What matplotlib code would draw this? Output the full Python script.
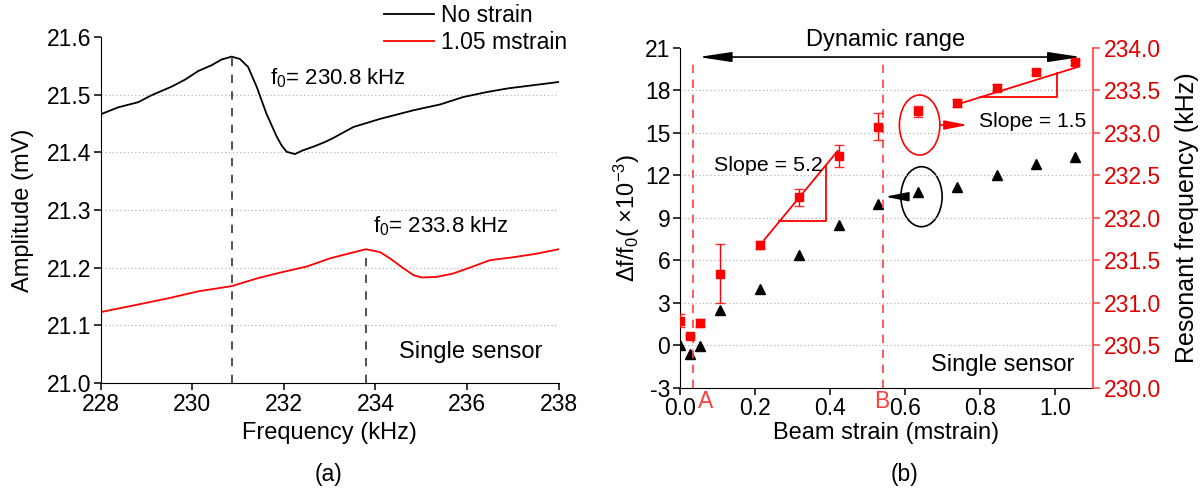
"""
Two-panel figure: resonance curves (a) and strain response of a single sensor (b).
"""

import matplotlib.pyplot as plt
import numpy as np
from matplotlib.patches import Ellipse
from matplotlib.transforms import blended_transform_factory

plt.switch_backend("Agg")

plt.rcParams["font.family"] = ["Liberation Sans", "DejaVu Sans"]
plt.rcParams["font.size"] = 16.5
plt.rcParams["axes.labelsize"] = 17
plt.rcParams["axes.unicode_minus"] = False
plt.rcParams["mathtext.fontset"] = "custom"
plt.rcParams["mathtext.rm"] = "Liberation Sans"
plt.rcParams["mathtext.it"] = "Liberation Sans:italic"
plt.rcParams["mathtext.bf"] = "Liberation Sans:bold"

# ---- panel (a): amplitude vs frequency ----
black_freq = [228.0, 228.38, 228.82, 229.11, 229.55, 229.84, 230.13, 230.42, 230.64,
              230.86, 231.04, 231.22, 231.41, 231.62, 231.84, 231.95, 232.06, 232.24,
              232.4, 232.65, 232.9, 233.08, 233.52, 234.1, 234.83, 235.41, 235.92,
              236.46, 236.9, 237.4, 238.0]
black_amp = [21.466, 21.478, 21.487, 21.499, 21.514, 21.526, 21.541, 21.551, 21.561,
             21.566, 21.562, 21.548, 21.513, 21.467, 21.428, 21.412, 21.401, 21.397,
             21.403, 21.41, 21.418, 21.425, 21.444, 21.458, 21.473, 21.483, 21.496,
             21.505, 21.511, 21.516, 21.522]

red_freq = [228.0, 228.75, 229.48, 230.13, 230.86, 231.44, 231.95, 232.5, 233.0,
            233.44, 233.79, 234.1, 234.32, 234.61, 234.83, 235.01, 235.34, 235.7,
            236.06, 236.5, 237.0, 237.5, 238.0]
red_amp = [21.123, 21.135, 21.147, 21.159, 21.168, 21.182, 21.192, 21.202, 21.216,
           21.225, 21.232, 21.227, 21.216, 21.199, 21.187, 21.183, 21.184, 21.19,
           21.2, 21.213, 21.218, 21.224, 21.232]

peak_freqs = [230.86, 233.80]
peak_amps = [21.566, 21.232]
peak_labels = ["230.8", "233.8"]
legend_labels = ["No strain", "1.05 mstrain"]

# ---- panel (b): strain response ----
strain = [0.0, 0.027, 0.054, 0.107, 0.212, 0.318, 0.423, 0.528, 0.634, 0.739,
          0.845, 0.950, 1.053]
df_ratio = [0.0, -0.65, -0.05, 2.45, 3.95, 6.35, 8.5, 10.0, 10.8, 11.2, 12.0,
            12.8, 13.25]
res_freq = [230.79, 230.61, 230.76, 231.34, 231.68, 232.24, 232.73, 233.07,
            233.25, 233.35, 233.53, 233.71, 233.83]
res_err = [0.075, 0.015, 0.05, 0.345, 0.05, 0.10, 0.13, 0.16, 0.06, 0.05,
           0.04, 0.03, 0.03]

range_marks = [0.034, 0.5415]
range_names = ["A", "B"]

fit_low_x = [0.224, 0.421]
fit_low_y = [7.42, 13.73]
fit_high_x = [0.74, 1.063]
fit_high_y = [17.0, 19.66]
tri_low_x = [0.265, 0.388]
tri_high_x = [0.80, 1.006]

RED = "#ff0000"
LIGHT_RED = "#ff4040"
GRID = "#b5b5b5"


def _line_at(xs, ys, x):
    slope = (ys[1] - ys[0]) / (xs[1] - xs[0])
    return ys[0] + slope * (x - xs[0])


def _slope_triangle(ax, xs, ys, tri_x):
    y0 = _line_at(xs, ys, tri_x[0])
    y1 = _line_at(xs, ys, tri_x[1])
    ax.plot(xs, ys, color=RED, lw=1.3)
    ax.plot([tri_x[0], tri_x[1], tri_x[1]], [y0, y0, y1], color=RED, lw=1.3)


def _hide_end_grid(ax):
    lines = ax.get_ygridlines()
    lines[0].set_visible(False)
    lines[-1].set_visible(False)


def _arrow(ax, tip, tail, color, style="-|>", head_length=0.7, head_width=0.14):
    ax.annotate("", xy=tip, xytext=tail, annotation_clip=False,
                arrowprops=dict(arrowstyle=f"{style},head_length={head_length},head_width={head_width}",
                                color=color, lw=1.2, mutation_scale=20,
                                shrinkA=0, shrinkB=0))


fig = plt.figure(figsize=(12.04, 4.93), dpi=100)

# ---------------- panel (a) ----------------
ax1 = fig.add_axes([0.0836, 0.2231, 0.3804, 0.7018])
l1, = ax1.plot(black_freq, black_amp, color="black", lw=1.3)
l2, = ax1.plot(red_freq, red_amp, color=RED, lw=1.3)
ax1.vlines(peak_freqs, 21.0, peak_amps, colors="#333333", linestyles=(0, (5, 5)), lw=1.2)

ax1.set_xlim(228, 238)
ax1.set_ylim(21.0, 21.6)
ax1.set_xticks(np.arange(228, 239, 2))
ax1.set_yticks(np.arange(21.0, 21.61, 0.1))
ax1.set_yticklabels([f"{v:.1f}" for v in np.arange(21.0, 21.61, 0.1)])
ax1.spines["top"].set_visible(False)
ax1.spines["right"].set_visible(False)
ax1.tick_params(direction="out", length=5, width=1.1, pad=2)
ax1.grid(True, axis="y", linestyle=(0, (1, 2)), color=GRID, lw=0.9)
_hide_end_grid(ax1)

ax1.set_xlabel("Frequency (kHz)", va="center")
ax1.xaxis.set_label_coords(0.5, -0.145)
ax1.set_ylabel("Amplitude (mV)", va="center")
ax1.yaxis.set_label_coords(-0.17, 0.5)

ax1.text(231.70, 21.517, r"f$_0$= " + peak_labels[0] + " kHz", ha="left", va="baseline", fontsize=16)
ax1.text(233.95, 21.262, r"f$_0$= " + peak_labels[1] + " kHz", ha="left", va="baseline", fontsize=16)
ax1.text(237.65, 21.043, "Single sensor", ha="right", va="baseline", fontsize=17)

ax1.legend([l1, l2], legend_labels, loc="upper left",
           bbox_to_anchor=(384 / 1204, 1 - 4 / 493), bbox_transform=fig.transFigure,
           frameon=False, borderpad=0, borderaxespad=0, handlelength=2.2,
           handletextpad=0.3, labelspacing=0.17)

fig.text(329 / 1204, 1 - 475 / 493, "(a)", ha="center", va="center")

# ---------------- panel (b) ----------------
ax2 = fig.add_axes([0.5648, 0.2136, 0.3426, 0.6897])
ax3 = ax2.twinx()

ax2.plot(strain, df_ratio, linestyle="none", marker="^", color="black", markersize=6.5)
ax3.errorbar(strain, res_freq, yerr=res_err, fmt="s", color=RED, ecolor=RED,
             markersize=5.5, elinewidth=1.0, capsize=3.5, capthick=1.0)
for ln in ax3.lines[1:]:
    ln.set_alpha(0.8)

ax2.set_xlim(0, 1.1)
ax2.set_ylim(-3, 21)
ax3.set_ylim(230, 234)
ax2.set_xticks(np.arange(0, 1.01, 0.2))
ax2.set_xticklabels([f"{v:.1f}" for v in np.arange(0, 1.01, 0.2)])
ax2.set_yticks(np.arange(-3, 22, 3))
ax3.set_yticks(np.arange(230, 234.01, 0.5))
ax3.set_yticklabels([f"{v:.1f}" for v in np.arange(230, 234.01, 0.5)])

for a in (ax2, ax3):
    a.spines["top"].set_visible(False)
ax2.spines["right"].set_visible(False)
ax3.spines["left"].set_visible(False)
ax3.spines["bottom"].set_visible(False)
ax3.spines["right"].set_color(LIGHT_RED)
ax3.spines["right"].set_linewidth(1.2)
ax2.tick_params(direction="out", length=5, width=1.1, pad=2)
ax3.tick_params(axis="y", direction="out", length=5, width=1.1, pad=3,
                colors=LIGHT_RED, labelcolor="#e00000")
ax2.grid(True, axis="y", linestyle=(0, (1, 2)), color=GRID, lw=0.9)
_hide_end_grid(ax2)

ax2.set_xlabel("Beam strain (mstrain)", va="center")
ax2.xaxis.set_label_coords(0.5, -0.133)
ax2.set_ylabel("Δf/f$_0$( ×10$^{-3}$)", va="center")
ax2.yaxis.set_label_coords(-0.1285, 0.5)
ax3.set_ylabel("Resonant frequency (kHz)", va="center", rotation=90, fontsize=18)
ax3.yaxis.set_label_coords(1.229, 0.5)

# working range markers
ax2.vlines(range_marks, -3, 20.2, colors=LIGHT_RED, linestyles=(0, (5, 4)), lw=1.2)
trans = blended_transform_factory(ax2.transData, ax2.transAxes)
ax2.text(0.067, -0.042, range_names[0], color=LIGHT_RED, ha="center", va="center",
         transform=trans, clip_on=False)
ax2.text(0.539, -0.042, range_names[1], color=LIGHT_RED, ha="center", va="center",
         transform=trans, clip_on=False)

_arrow(ax2, (0.049, 20.34), (1.07, 20.34), "black", style="<|-|>",
       head_length=1.0, head_width=0.15)
ax2.text(0.547, 21.55, "Dynamic range", ha="center", va="center", clip_on=False, fontsize=17)

# slopes
_slope_triangle(ax2, fit_low_x, fit_low_y, tri_low_x)
_slope_triangle(ax2, fit_high_x, fit_high_y, tri_high_x)
ax2.text(0.09, 12.67, "Slope = 5.2", ha="left", va="center", fontsize=15.4)
ax2.text(0.798, 15.82, "Slope = 1.5", ha="left", va="center", fontsize=15.2)

# ellipses with pointer arrows
ax2.add_patch(Ellipse((0.639, 15.54), 0.108, 4.24, fill=False, edgecolor=RED, lw=1.2))
_arrow(ax2, (0.767, 15.54), (0.695, 15.54), RED)
ax2.add_patch(Ellipse((0.644, 10.48), 0.11, 4.235, fill=False, edgecolor="black", lw=1.2))
_arrow(ax2, (0.547, 10.48), (0.591, 10.48), "black")

ax2.text(1.051, -1.4, "Single sensor", ha="right", va="center", fontsize=17)

fig.text(904 / 1204, 1 - 475 / 493, "(b)", ha="center", va="center")

fig.savefig("out.png", dpi=100)
plt.close(fig)
